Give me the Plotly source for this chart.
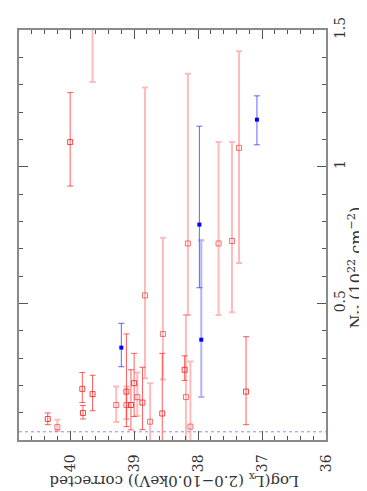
import plotly.graph_objects as go

# thin red error bars (open squares)
red_lx = [40.35, 39.81, 39.80, 39.65, 39.12, 39.05, 39.00, 38.87, 38.56, 38.21, 37.25, 40.00]
red_nh = [0.077, 0.187, 0.099, 0.168, 0.177, 0.128, 0.208, 0.137, 0.097, 0.257, 0.177, 1.09]
red_hi = [0.099, 0.247, 0.126, 0.237, 0.388, 0.257, 0.317, 0.266, 0.317, 0.308, 0.378, 1.271]
red_lo = [0.056, 0.137, 0.077, 0.107, 0.049, 0.037, 0.086, 0.038, -0.05, 0.218, 0.056, 0.929]

# thick pale red error bars (open squares)
pink_lx = [40.20, 39.28, 39.12, 38.95, 38.83, 38.75, 38.55, 38.19, 38.16, 38.12, 39.65, 37.68, 37.47, 37.36]
pink_nh = [0.047, 0.128, 0.128, 0.157, 0.529, 0.067, 0.388, 0.157, 0.719, 0.049, 1.62, 0.719, 0.728, 1.069]
pink_hi = [0.074, 0.196, 0.196, 0.247, 1.29, 0.208, 0.74, 0.457, 1.34, 0.287, 1.95, 1.09, 1.09, 1.422]
pink_lo = [0.033, 0.066, 0.077, 0.089, 0.226, -0.05, 0.221, -0.05, 0.457, -0.05, 1.31, 0.457, 0.467, 0.648]

# blue filled squares
blue_lx = [39.20, 37.98, 37.08]
blue_nh = [0.338, 0.788, 1.172]
blue_hi = [0.427, 1.148, 1.259]
blue_lo = [0.268, 0.557, 1.08]

pale_blue_lx = [37.95]
pale_blue_nh = [0.367]
pale_blue_hi = [0.731]
pale_blue_lo = [0.157]

nh_floor = 0.03
x_range = [40.8, 36]
y_range = [0, 1.5]

FONT = 'DejaVu Serif'


def errs(v, hi, lo):
    return dict(type='data', symmetric=False,
                array=[h - c for h, c in zip(hi, v)],
                arrayminus=[c - l for c, l in zip(v, lo)])


def add_group(fig, lx, nh, hi, lo, bar_color, bar_width, marker):
    e = errs(nh, hi, lo)
    e.update(color=bar_color, thickness=bar_width, width=3)
    fig.add_trace(go.Scatter(x=lx, y=nh, mode='markers', error_y=e,
                             marker=marker, showlegend=False))


fig = go.Figure()

add_group(fig, pink_lx, pink_nh, pink_hi, pink_lo, 'rgba(255,120,120,0.5)', 2,
          dict(symbol='square-open', size=5, color='rgba(235,70,70,0.75)', line=dict(width=1)))
add_group(fig, red_lx, red_nh, red_hi, red_lo, 'rgba(255,40,40,0.75)', 1,
          dict(symbol='square-open', size=5, color='rgba(235,40,40,0.85)', line=dict(width=1)))
add_group(fig, pale_blue_lx, pale_blue_nh, pale_blue_hi, pale_blue_lo, 'rgba(100,100,255,0.5)', 2,
          dict(symbol='square', size=4, color='blue'))
add_group(fig, blue_lx, blue_nh, blue_hi, blue_lo, 'rgba(60,60,255,0.8)', 1,
          dict(symbol='square', size=4, color='blue'))

fig.add_hline(y=nh_floor, line=dict(color='rgba(110,110,255,0.8)', width=1, dash='dot'))

axis_common = dict(showgrid=False, zeroline=False, showline=True, mirror='ticks',
                   linecolor='#8a8a8a', linewidth=1.5, ticks='inside', ticklen=9,
                   tickcolor='#555', tickwidth=1,
                   tickfont=dict(family=FONT, size=14, color='#333'))

fig.update_xaxes(range=x_range, tickvals=[40, 39, 38, 37, 36], tickangle=-90,
                 ticklabelstandoff=7,
                 minor=dict(dtick=0.2, ticks='inside', ticklen=4, tickcolor='#555'),
                 **axis_common)
fig.update_yaxes(range=y_range, side='right', tickvals=[0.5, 1, 1.5], ticktext=['0.5', '1', '1.5'],
                 tickangle=-90,
                 minor=dict(dtick=0.1, ticks='inside', ticklen=4, tickcolor='#555'),
                 **axis_common)

fig.add_annotation(text='Log(L<sub>x</sub> (2.0\u221210.0keV)) corrected', textangle=180,
                   xref='paper', yref='paper', x=0.505, y=-0.099, showarrow=False,
                   xanchor='center', yanchor='middle',
                   font=dict(family=FONT, size=15, color='#333'))
fig.add_annotation(text='N<sub>H</sub> (10<sup>22</sup> cm<sup>\u22122</sup>)', textangle=-90,
                   xref='paper', yref='paper', x=1.1, y=0.42, showarrow=False,
                   xanchor='center', yanchor='middle',
                   font=dict(family=FONT, size=16, color='#333'))

fig.update_layout(width=367, height=491, margin=dict(l=9, r=49, t=21, b=59),
                  plot_bgcolor='white', paper_bgcolor='white')

fig.write_html('out.html')
